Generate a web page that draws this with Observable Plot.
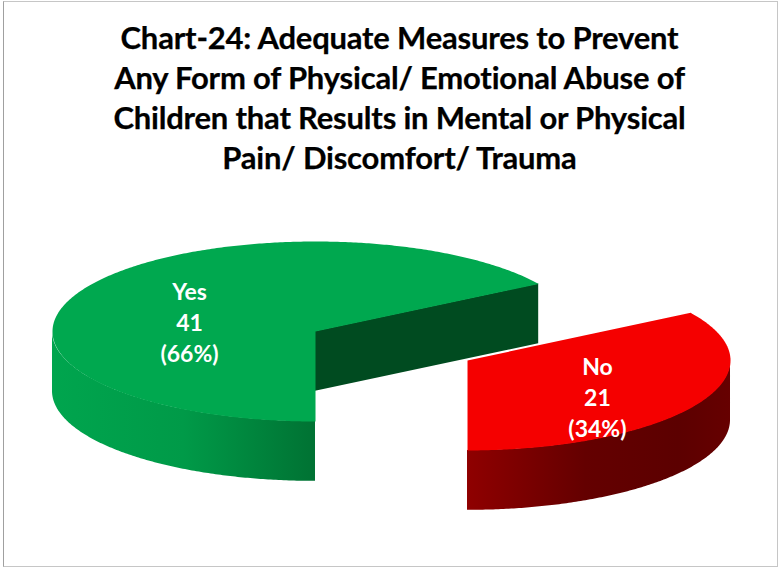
<!DOCTYPE html>
<html>
<head>
<meta charset="utf-8">
<script src="https://cdn.jsdelivr.net/npm/d3@7"></script>
<script src="https://cdn.jsdelivr.net/npm/@observablehq/plot@0.6"></script>
<style>
  html, body { margin: 0; padding: 0; background: #fff; }
  #page { position: relative; width: 778px; height: 567px; overflow: hidden; background: #fff; }
  #frame { position: absolute; left: 3px; top: 1px; width: 773px; height: 564px; border: 1px solid #c6c6c6; border-left-color: #a0a0a0; pointer-events: none; }
  #title { height: 190px; box-sizing: border-box; padding-top: 17px; padding-left: 21px; text-align: center; font-family: Lato, sans-serif; font-weight: 700; font-size: 31px; line-height: 40px; letter-spacing: -0.2px; color: #000; -webkit-text-stroke: 0.25px #000; }
  #title span { display: block; white-space: nowrap; }
  #chart svg { display: block; background: transparent; }
</style>
</head>
<body>
<div id="page">
  <div id="title"></div>
  <div id="chart"></div>
  <div id="frame"></div>
</div>
<script>
// ---- chart values ----
const titleLines = [
  "Chart-24: Adequate Measures to Prevent",
  "Any Form of Physical/ Emotional Abuse of",
  "Children that Results in Mental or Physical",
  "Pain/ Discomfort/ Trauma"
];
const categories = ["Yes", "No"];
const counts = [41, 21];
const percents = [66, 34];

// ---- layout (in units of the pie's radius; the x and y scales hold the tilt) ----
const width = 778, height = 377;
const radiusX = 263, radiusY = 90;
const centerX = 315, centerY = 141;
const depth = 0.665;
const offsetX = [0, 0.578];
const offsetY = [0, 0.322];
const labelX = [-0.479, 1.072];
const labelY = [-0.12, 0.72];
const topColors = ["#00a84f", "#f50000"];
const wallColor = "#004b20";

document.getElementById("title").innerHTML = titleLines.map(l => `<span>${l}</span>`).join("");

// Slices start at six o'clock and run clockwise, as on the reference.
const total = d3.sum(counts);
const toAngle = v => (v / total) * 2 * Math.PI;
let running = 0;
const slices = categories.map((name, i) => {
  const start = toAngle(running);
  running += counts[i];
  return { name, i, start, end: toAngle(running), ox: offsetX[i], oy: offsetY[i] };
});
// Point on the rim for clockwise angle a measured from six o'clock (y grows downward).
const rim = (s, a) => ({ x: s.ox - Math.sin(a), y: s.oy + Math.cos(a) });
const arc = (s, a0, a1) => {
  const n = Math.max(2, Math.ceil(Math.abs(a1 - a0) / 0.01));
  return d3.range(n + 1).map(k => rim(s, a0 + (a1 - a0) * k / n));
};
const topFace = s => [{ x: s.ox, y: s.oy }, ...arc(s, s.start, s.end), { x: s.ox, y: s.oy }];

const [yes, no] = slices;
// Visible outer walls: the part of each rim on the front half of the ellipse.
const yesSide = arc(yes, yes.start, Math.PI / 2).map(p => ({ x: p.x, y1: p.y, y2: p.y + depth }));
const noSide = arc(no, 3 * Math.PI / 2, no.end).map(p => ({ x: p.x, y1: p.y, y2: p.y + depth }));
// Visible inner wall of the Yes slice: from its apex to the rim at its closing angle.
const yesEdge = rim(yes, yes.end);
const yesWall = [{ x: yes.ox, y1: yes.oy, y2: yes.oy + depth }, { x: yesEdge.x, y1: yesEdge.y, y2: yesEdge.y + depth }];

const labels = categories.map((name, i) => ({
  text: `${name}\n${counts[i]}\n(${percents[i]}%)`, x: labelX[i], y: labelY[i]
}));

const gradients = () => {
  const defs = d3.create("svg:defs");
  const add = (id, stops) => {
    const g = defs.append("linearGradient").attr("id", id).attr("x1", 0).attr("x2", 1).attr("y1", 0).attr("y2", 0);
    stops.forEach(([o, c]) => g.append("stop").attr("offset", o).attr("stop-color", c));
  };
  add("greenSide", [[0, "#00a54e"], [0.5, "#009a48"], [1, "#007233"]]);
  add("redSide", [[0, "#8f0000"], [0.45, "#640000"], [0.8, "#5c0000"], [1, "#660000"]]);
  return defs.node();
};

const chart = Plot.plot({
  width, height,
  margin: 0,
  x: { domain: [-centerX / radiusX, (width - centerX) / radiusX], range: [0, width], axis: null },
  y: { domain: [-centerY / radiusY, (height - centerY) / radiusY], range: [0, height], axis: null },
  style: { background: "transparent" },
  marks: [
    gradients,
    Plot.areaY(yesWall, { x: "x", y1: "y1", y2: "y2", fill: wallColor }),
    Plot.areaY(yesSide, { x: "x", y1: "y1", y2: "y2", fill: "url(#greenSide)" }),
    Plot.line(topFace(yes), { x: "x", y: "y", fill: topColors[0], stroke: "none" }),
    Plot.areaY(noSide, { x: "x", y1: "y1", y2: "y2", fill: "url(#redSide)" }),
    Plot.line(topFace(no), { x: "x", y: "y", fill: topColors[1], stroke: "none" }),
    Plot.text(labels, {
      x: "x", y: "y", text: "text",
      fill: "#fff", fontFamily: "Lato, sans-serif", fontWeight: 700, fontSize: 23,
      lineHeight: 1.35, textAnchor: "middle"
    })
  ]
});
document.getElementById("chart").append(chart);
</script>
</body>
</html>
